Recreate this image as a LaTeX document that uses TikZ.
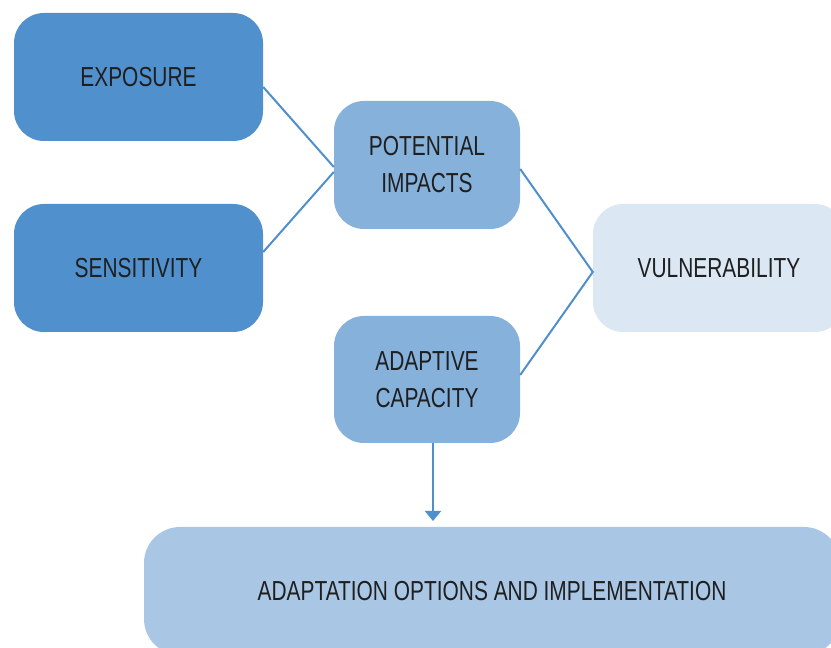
\documentclass[tikz,border=0pt]{standalone}
\usepackage{fontspec}
\setmainfont[FakeStretch=0.76]{Liberation Sans}
\usetikzlibrary{arrows.meta}
\definecolor{darkblue}{HTML}{4F90CD}
\definecolor{midblue}{HTML}{85B1DB}
\definecolor{paleblue}{HTML}{A9C7E5}
\definecolor{lightblue}{HTML}{DCE7F4}
\definecolor{linkblue}{HTML}{4F8FCC}
\begin{document}
\begin{tikzpicture}[x=1pt,y=1pt,
		box/.style={rounded corners=30pt, align=center, inner sep=0pt, text=black!88,
			font=\fontsize{27.5}{37}\selectfont},
		link/.style={linkblue, line width=2pt}]
			\useasboundingbox (0,0) rectangle (831,648);
			\node [box, fill=darkblue, minimum width=249pt, minimum height=128pt] (exposure) at (138.5,571) {EXPOSURE};
			\node [box, fill=darkblue, minimum width=249pt, minimum height=128pt] (sensitivity) at (138.5,380) {SENSITIVITY};
			\node [box, fill=midblue, minimum width=186pt, minimum height=128pt] (impacts) at (427,483) {POTENTIAL\\IMPACTS};
			\node [box, fill=midblue, minimum width=186pt, minimum height=127pt] (capacity) at (427,268.5) {ADAPTIVE\\CAPACITY};
			\node [box, fill=lightblue, minimum width=252pt, minimum height=128pt] (vuln) at (719,380) {VULNERABILITY};
			\node [box, fill=paleblue, minimum width=696pt, minimum height=128pt, rounded corners=36pt] (options) at (492,57) {ADAPTATION OPTIONS AND IMPLEMENTATION};
			\coordinate (tip) at (433,127);
			\draw [link] ([yshift=-10pt]exposure.east) -- ([yshift=-2pt]impacts.west);
			\draw [link] ([yshift=16pt]sensitivity.east) -- ([yshift=-7pt]impacts.west);
			\draw [link] ([yshift=-4pt]impacts.east) -- ([yshift=-4pt]vuln.west) -- ([yshift=4.5pt]capacity.east);
			\draw [link, -{Triangle[width=16pt,length=10pt]}] ([xshift=6pt]capacity.south) -- (tip);
		\end{tikzpicture}
\end{document}
